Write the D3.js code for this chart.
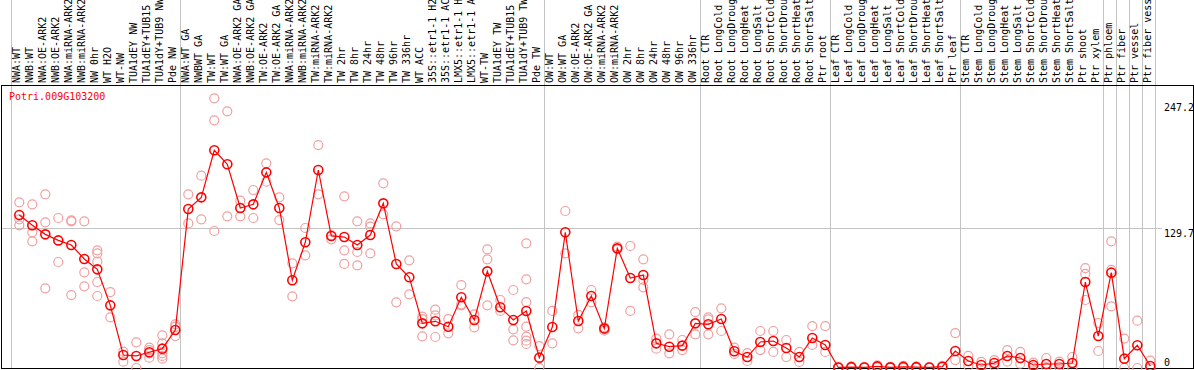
<!DOCTYPE html>
<html>
<head>
<meta charset="utf-8">
<script src="https://cdn.jsdelivr.net/npm/d3@7"></script>
<style>
  body { margin: 0; background: #fff; }
  svg { display: block; }
  text { font-family: "DejaVu Sans Mono", monospace; font-size: 10px; }
</style>
</head>
<body>
<div id="chart"></div>
<script>
// data
var gene = "Potri.009G103200";

var labels = [
  "NWA:WT", "NWB:WT", "NWA:OE-ARK2", "NWB:OE-ARK2", "NWA:miRNA-ARK2", "NWB:miRNA-ARK2",
  "NW 0hr", "WT H2O", "WT-NW", "TUA1dEY NW", "TUA1dEY+TUB15", "TUA1dY+TUB9 NW", "Pde NW",
  "NWA:WT GA", "NWBWT GA", "TW:WT", "TW:WT GA", "NWA:OE-ARK2 GA", "NWB:OE-ARK2 GA",
  "TW:OE-ARK2", "TW:OE-ARK2 GA", "NWA:miRNA-ARK2 ", "NWB:miRNA-ARK2 ", "TW:miRNA-ARK2", "TW:miRNA-ARK2 ",
  "TW 2hr", "TW 8hr", "TW 24hr", "TW 48hr", "TW 96hr", "TW 336hr", "WT ACC",
  "35S::etr1-1 H2", "35S::etr1-1 AC", "LMX5::etr1-1 H", "LMX5::etr1-1 A",
  "WT-TW", "TUA1dEY TW", "TUA1dEY+TUB15 ", "TUA1dY+TUB9 TW", "Pde TW",
  "OW:WT", "OW:WT GA", "OW:OE-ARK2", "OW:OE-ARK2 GA", "OW:miRNA-ARK2", "OW:miRNA-ARK2 ",
  "OW 2hr", "OW 8hr", "OW 24hr", "OW 48hr", "OW 96hr", "OW 336hr",
  "Root CTR", "Root LongCold", "Root LongDroug", "Root LongHeat", "Root LongSalt",
  "Root ShortCold", "Root ShortDrou", "Root ShortHeat", "Root ShortSalt", "Ptr root",
  "Leaf CTR", "Leaf LongCold", "Leaf LongDroug", "Leaf LongHeat", "Leaf LongSalt",
  "Leaf ShortCold", "Leaf ShortDrou", "Leaf ShortHeat", "Leaf ShortSalt", "Ptr leaf",
  "Stem CTR", "Stem LongCold", "Stem LongDroug", "Stem LongHeat", "Stem LongSalt",
  "Stem ShortCold", "Stem ShortDrou", "Stem ShortHeat", "Stem ShortSalt",
  "Ptr shoot", "Ptr xylem", "Ptr phloem", "Ptr fiber", "Ptr vessel", "Ptr fiber vess"
];

var means = [
  142.2, 132.6, 124.2, 118.6, 114.3, 101.3, 91.7, 58.2, 12.1, 11.2, 14.6, 18.0, 35.3,
  147.8, 158.6, 202.3, 189.3, 148.7, 152.1, 181.8, 148.7, 81.5, 116.8, 184.0, 122.7,
  121.7, 114.3, 123.6, 153.0, 96.7, 84.3, 41.5, 43.4, 38.4, 65.7, 44.6,
  89.8, 56.4, 44.6, 53.0, 9.6,
  38.1, 126.1, 43.7, 66.9, 36.6, 111.2, 83.6, 86.4, 22.9, 19.8, 20.8, 41.5,
  40.6, 45.5, 15.5, 10.2, 24.2, 25.1, 18.6, 10.2, 27.9, 21.4,
  0.5, 0.8, 0.5, 1.5, 0.6, 1.0, 0.8, 0.5, 1.2, 15.8,
  6.5, 2.8, 4.6, 11.2, 9.3, 2.8, 3.7, 3.7, 4.6,
  79.9, 29.7, 88.6, 8.7, 21.1, 1.9
];

var reps = [
  [154.0, 138.2, 132.6], [152.1, 126.1, 117.7], [161.4, 135.4, 74.0], [139.4, 98.5],
  [137.2, 136.3, 67.8], [136.3, 88.9, 75.9], [109.4, 106.6, 98.8, 79.9, 66.9], [70.6, 47.1],
  [15.2, 5.9], [23.9, 0], [18.9, 16.7, 13.6, 9.6], [30.4, 22.9, 13.6, 11.2, 8.7], [40.6, 38.4, 29.7],
  [161.4, 134.4], [178.7, 138.2], [250.6, 230.2, 127.3], [238.5, 141.0], [155.5, 141.0],
  [165.4, 139.4], [190.2, 173.2], [158.6, 137.5], [97.3, 66.6], [130.1, 104.7], [207.2, 161.4],
  [123.6, 119.6], [159.5, 109.4, 96.7], [136.3, 107.8, 95.4], [134.4, 131.3, 106.6],
  [171.6, 142.8], [131.7, 61.0], [100.1, 68.5], [47.7, 45.5, 29.4], [54.2, 48.9, 28.8],
  [45.5, 32.2], [77.1, 59.2, 58.2], [49.9, 37.8], [110.3, 101.0, 58.2], [63.2, 53.0],
  [72.5, 35.9, 25.7], [115.9, 82.4, 61.3, 38.4, 29.1, 25.4, 22.3], [20.4, 0],
  [53.0, 22.9], [145.9, 106.6], [49.3, 36.9], [72.5, 61.0], [37.8, 34.7], [112.8, 110.3],
  [113.4, 53.0], [101.0, 81.8, 75.0], [27.3, 18.0], [31.3, 13.6], [26.0, 16.7], [52.0, 31.3],
  [47.1, 45.2, 31.3], [55.5, 34.4], [18.9, 13.0], [13.9, 6.5], [34.4, 16.7], [34.4, 14.9],
  [26.0, 10.2], [14.9, 5.6], [39.0, 21.4], [39.0, 14.9],
  [1.0, 0], [1.5, 0], [1.0, 0], [2.5, 0.5], [1.0, 0], [2.0, 0], [1.5, 0], [1.0, 0], [2.0, 0.5],
  [32.5, 7.4],
  [11.2, 2.0], [5.6, 0], [7.4, 2.0], [16.7, 6.0], [14.9, 4.0], [5.0, 0.5], [9.3, 0], [6.0, 1.0], [10.2, 0],
  [92.9, 87.4, 63.2], [41.8, 15.8], [117.7, 91.1, 57.3], [27.3, 0], [44.0, 0], [6.8, 0]
];

var ticks = [0, 129.7, 247.2];
var grid = [129.7];
// column index where each group ends
var groupEnds = [0, 13, 41, 53, 63, 73, 84, 85, 86, 87, 88];

var width = 1194, height = 370;

var svg = d3.select("#chart")
  .append("svg")
    .attr("width", width)
    .attr("height", height);

var x = d3.scaleBand()
  .domain(labels)
  .range([11, 1155]);

var y = d3.scaleLinear()
  .domain([0, 247.2])
  .range([368, 102]);

function px(d) { return x(d) + 8.3; }

// group separators
svg.selectAll(".sep")
  .data(groupEnds)
  .enter()
  .append("line")
    .attr("x1", function(k) { return Math.round(x.range()[0] + k * x.step()) + 0.5; })
    .attr("x2", function(k) { return Math.round(x.range()[0] + k * x.step()) + 0.5; })
    .attr("y1", 0)
    .attr("y2", 368)
    .attr("stroke", "#c4c4c4");

// horizontal grid line
svg.selectAll(".grid")
  .data(grid)
  .enter()
  .append("line")
    .attr("x1", 1.5)
    .attr("x2", 1162)
    .attr("y1", function(d) { return Math.round(y(d)) + 0.5; })
    .attr("y2", function(d) { return Math.round(y(d)) + 0.5; })
    .attr("stroke", "#c4c4c4");

// frame
svg.append("rect")
  .attr("x", 1.5)
  .attr("y", 85.5)
  .attr("width", 1192)
  .attr("height", 283)
  .attr("fill", "none")
  .attr("stroke", "#000");

// column labels
svg.selectAll(".lab")
  .data(labels)
  .enter()
  .append("text")
    .attr("transform", function(d) { return "translate(" + (px(d) + 0.5) + ",83)rotate(-90)"; })
    .attr("fill", "#000")
    .text(function(d) { return d; });

// right axis
var axis = svg.append("g")
  .attr("transform", "translate(1164,0)")
  .call(d3.axisRight(y).tickValues(ticks).tickSize(0).tickPadding(0)
    .tickFormat(function(d) { return d === 0 ? "0" : d3.format(".1f")(d); }));
axis.select(".domain").remove();
axis.selectAll("text")
  .attr("font-family", "DejaVu Sans Mono, monospace")
  .attr("font-size", 10)
  .attr("x", 0)
  .attr("dy", function(d) { return d === 0 ? "-0.3em" : "0.8em"; });

svg.append("text")
  .attr("x", 9)
  .attr("y", 100)
  .attr("fill", "#ff0000")
  .text(gene);

// replicate points
var repPts = [];
labels.forEach(function(l, i) {
  reps[i].forEach(function(v) { repPts.push({lab: l, val: v}); });
});
svg.selectAll(".rep")
  .data(repPts)
  .enter()
  .append("circle")
    .attr("cx", function(d) { return px(d.lab); })
    .attr("cy", function(d) { return y(d.val); })
    .attr("r", 4.5)
    .attr("fill", "none")
    .attr("stroke", "#f0a0a0")
    .attr("stroke-width", 1.2);

// mean line
var line = d3.line()
  .x(function(d, i) { return px(labels[i]); })
  .y(function(d) { return y(d); });
svg.append("path")
  .datum(means)
  .attr("d", line)
  .attr("fill", "none")
  .attr("stroke", "#ff0000")
  .attr("stroke-width", 1.2);

svg.selectAll(".mean")
  .data(means)
  .enter()
  .append("circle")
    .attr("cx", function(d, i) { return px(labels[i]); })
    .attr("cy", function(d) { return y(d); })
    .attr("r", 4.5)
    .attr("fill", "none")
    .attr("stroke", "#ff0000")
    .attr("stroke-width", 1.6);
</script>
</body>
</html>
